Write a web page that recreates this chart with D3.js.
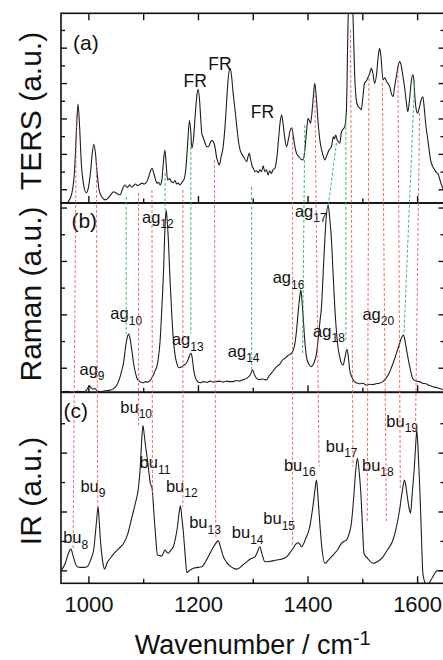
<!DOCTYPE html>
<html>
<head>
<meta charset="utf-8">
<script src="https://cdn.jsdelivr.net/npm/d3@7"></script>
<style>
  body { margin: 0; background: #fff; }
  text { font-family: "Liberation Sans", Arial, sans-serif; fill: #111; }
</style>
</head>
<body>
<div id="chart"></div>
<script>
// spectra: [wavenumber, intensity (a.u.)]
var ters = [[955,-0.9],[963,-0.72],[970,-0.2],[975,1.2],[978,3.2],[981,4.82],[984,3.5],[987,1.5],[991,0.3],[996,-0.19],[1000,0.1],[1004,1.0],[1007,2.0],[1010,2.54],[1013,2.0],[1016,0.9],[1020,-0.1],[1025,-0.45],[1031,-0.6],[1036,-0.5],[1041,-0.3],[1046,-0.14],[1050,-0.2],[1054,-0.28],[1058,-0.32],[1062,0.0],[1067,0.24],[1071,0.1],[1075,0.25],[1079,0.12],[1082,0.19],[1086,0.3],[1090,0.2],[1094,0.28],[1098,0.35],[1102,0.3],[1107,0.45],[1110,0.7],[1113,1.0],[1116,1.19],[1119,0.95],[1122,0.6],[1125,0.34],[1128,0.4],[1131,0.24],[1134,0.5],[1136,1.2],[1139.7,2.22],[1142,1.4],[1144.5,0.53],[1148,0.6],[1151,0.45],[1155,0.37],[1158,0.5],[1161,0.3],[1164,0.35],[1167,0.24],[1171,0.4],[1175,0.6],[1178,1.2],[1181,2.5],[1184.5,3.88],[1187,3.2],[1189,2.32],[1192,2.9],[1195,4.2],[1198,5.3],[1200.3,5.65],[1203,5.0],[1205,4.0],[1207,3.16],[1210,2.9],[1213,2.6],[1216,2.41],[1219,2.4],[1222,2.6],[1225,2.75],[1228,2.69],[1231,2.4],[1234,1.8],[1237,1.5],[1239,1.37],[1242,1.8],[1246,2.41],[1249,3.4],[1252,4.8],[1255,6.2],[1258.6,6.84],[1261,6.5],[1264,5.5],[1267.7,4.48],[1271,3.5],[1274,2.7],[1276.8,2.22],[1280,2.0],[1284,1.8],[1289,1.56],[1291,1.8],[1293.7,2.03],[1296,1.7],[1299,1.3],[1301,1.19],[1304,1.0],[1307,1.05],[1310,0.94],[1313,1.1],[1316,1.0],[1319,1.32],[1322,1.0],[1325,1.1],[1328,0.81],[1331,1.05],[1334,0.9],[1337,1.1],[1340.5,1.19],[1344,1.8],[1347,2.8],[1350,3.8],[1352.7,4.2],[1355,3.8],[1358,3.0],[1361.8,2.41],[1365,2.8],[1368,3.3],[1371,3.48],[1374,3.0],[1377,2.4],[1380,2.03],[1384,1.85],[1388,1.7],[1392,1.66],[1395,2.2],[1398,3.2],[1401,4.01],[1403,3.9],[1405.5,3.73],[1408,4.3],[1411,5.4],[1413.3,5.99],[1416,5.2],[1419,3.9],[1422.4,2.79],[1426,2.2],[1429,1.85],[1431.5,1.66],[1435,1.9],[1439,2.2],[1443.7,2.41],[1447,2.97],[1449,2.85],[1451.5,3.07],[1454,2.8],[1456,2.7],[1458.8,2.6],[1462,3.25],[1465,3.4],[1468,3.54],[1471,4.5],[1474,9.5],[1477,12],[1480,12],[1483,9.8],[1486,6.5],[1489,5.04],[1492,4.7],[1495,4.6],[1498,4.48],[1501,5.2],[1504,5.99],[1507,6.1],[1510,6.3],[1513,6.5],[1516.5,6.84],[1519,6.6],[1522.5,5.99],[1526,6.5],[1529,7.5],[1531.6,7.97],[1534,7.5],[1537.7,6.18],[1541,6.3],[1544,6.1],[1546.7,5.99],[1550,5.8],[1553,5.4],[1555.9,5.23],[1559,5.8],[1562,6.36],[1565,6.9],[1568,7.21],[1571,7.0],[1574,6.4],[1577,5.8],[1580,5.0],[1583,4.38],[1586,5.0],[1589,6.0],[1592,6.46],[1594,6.2],[1596,5.2],[1598.5,4.48],[1601,4.3],[1604,4.6],[1607,5.0],[1610.5,5.23],[1613,4.6],[1616,3.6],[1619.6,2.79],[1622,2.2],[1625,1.6],[1628.7,1.28],[1632,1.1],[1635,0.95],[1638,0.9],[1641,0.6],[1644,0.3],[1648,0.0]];

var raman = [[951,-0.9],[960,-0.88],[970,-0.92],[980,-0.88],[990,-0.9],[996,-0.85],[1000,-0.72],[1002.4,-0.69],[1005,-0.75],[1008,-0.8],[1012,-0.78],[1016,-0.87],[1022,-0.9],[1030,-0.86],[1040,-0.84],[1046,-0.78],[1052,-0.65],[1057,-0.4],[1061,-0.1],[1064,0.16],[1068,0.8],[1071,1.15],[1073.5,1.26],[1076,1.1],[1079,0.7],[1082.5,0.16],[1086,-0.2],[1088.7,-0.4],[1093,-0.5],[1097,-0.55],[1100.7,-0.56],[1104,-0.52],[1108,-0.54],[1113,-0.46],[1118,-0.3],[1122,-0.1],[1125,0.04],[1128,0.4],[1131,1.04],[1134,2.2],[1137,3.54],[1139,4.8],[1141,5.7],[1142,5.9],[1143.5,5.6],[1146,4.78],[1149,3.3],[1152.4,1.91],[1155,1.1],[1158,0.5],[1161.5,0.16],[1165,0.0],[1170.6,0.04],[1174,0.1],[1178,0.15],[1182,0.3],[1185,0.48],[1187.6,0.54],[1190,0.3],[1192,-0.05],[1194.9,-0.34],[1198,-0.48],[1204,-0.56],[1210,-0.52],[1216,-0.55],[1222,-0.5],[1228,-0.54],[1234,-0.52],[1240,-0.5],[1246,-0.54],[1252,-0.5],[1258,-0.52],[1264.6,-0.52],[1270,-0.48],[1276,-0.5],[1282,-0.45],[1289,-0.4],[1295,-0.28],[1300,-0.09],[1303,-0.25],[1307,-0.4],[1312,-0.44],[1318,-0.42],[1325,-0.46],[1330,-0.3],[1336,-0.15],[1343.6,0.04],[1350,0.15],[1354,0.28],[1358.7,0.35],[1364,0.45],[1368,0.5],[1372.7,0.6],[1376,0.8],[1380,1.41],[1383,2.1],[1386,2.7],[1387.8,2.91],[1389.5,2.6],[1392,1.91],[1395,1.0],[1398,0.41],[1402,0.15],[1407,0.04],[1411,0.15],[1416.4,0.54],[1420,1.2],[1423,1.8],[1425.5,2.28],[1428,3.3],[1431.5,4.78],[1434,5.6],[1437.5,6.09],[1440.5,5.6],[1443.7,4.78],[1446.5,3.6],[1449.7,2.28],[1453,1.3],[1456,0.7],[1458.8,0.41],[1461,0.2],[1464.8,0.1],[1468,0.35],[1472,0.69],[1474.5,0.4],[1477,-0.09],[1481,-0.35],[1485,-0.5],[1489,-0.56],[1495,-0.6],[1501,-0.58],[1507,-0.65],[1513,-0.62],[1519,-0.63],[1525,-0.6],[1531,-0.58],[1537.7,-0.52],[1543,-0.4],[1549,-0.2],[1553,0.0],[1556,0.16],[1560,0.4],[1564,0.65],[1568,0.91],[1571,1.1],[1575,1.22],[1578,1.0],[1580,0.75],[1583,0.41],[1587,0.0],[1592,-0.4],[1598,-0.5],[1604.5,-0.52],[1610,-0.58],[1616,-0.6],[1622,-0.66],[1628.7,-0.71],[1635,-0.74],[1641,-0.78],[1648,-0.82]];

var ir = [[951,0.01],[958,0.25],[963,0.55],[968,0.72],[972,0.5],[976,0.25],[979.5,0.12],[986,0.1],[992,0.1],[997.7,0.12],[1003,0.3],[1007,0.5],[1009.7,0.69],[1012,1.1],[1015,1.7],[1017.7,2.16],[1020,1.6],[1022.5,0.9],[1025,0.46],[1027.5,0.15],[1029.7,0.04],[1034,0.25],[1040,0.41],[1048,0.6],[1056,0.75],[1064.3,0.92],[1072,1.25],[1079.6,1.82],[1086,2.3],[1091.6,2.84],[1095,3.6],[1097.5,4.5],[1099.6,4.92],[1102,4.6],[1104.5,4.2],[1107,3.86],[1110,3.4],[1113,2.96],[1116,2.82],[1118,2.4],[1120,1.82],[1123,1.1],[1126,0.52],[1130,0.5],[1134,0.49],[1137,0.6],[1140,0.69],[1143,0.62],[1146,0.58],[1150,0.68],[1155,0.8],[1159,1.1],[1162.6,1.48],[1165.5,1.95],[1168,2.19],[1170.5,1.8],[1173.5,1.26],[1176.5,0.55],[1179.7,-0.07],[1185,0.0],[1191.7,0.07],[1200,0.1],[1207,0.12],[1214,0.3],[1222,0.58],[1230,0.85],[1237,1.0],[1241,0.8],[1246.4,0.46],[1252,0.28],[1258.6,0.15],[1264,0.08],[1270.8,0.04],[1280,0.15],[1289,0.29],[1297,0.4],[1304,0.46],[1308,0.6],[1313,0.8],[1317,0.55],[1322,0.29],[1330,0.3],[1343.6,0.35],[1352,0.38],[1361.8,0.46],[1368,0.6],[1373.8,0.75],[1378,0.88],[1383,0.94],[1386,0.88],[1389,0.8],[1396,1.05],[1404,1.48],[1410,2.2],[1414,2.8],[1416.4,3.07],[1419,2.5],[1422.4,1.6],[1426,0.8],[1431.5,0.24],[1438,0.35],[1446.6,0.52],[1455,0.7],[1462,0.92],[1468,1.0],[1471,1.03],[1476,1.25],[1480,1.6],[1484,2.4],[1488,3.4],[1491,3.81],[1494,3.4],[1498,2.39],[1500.5,1.4],[1503,0.58],[1510,0.4],[1519.5,0.24],[1528,0.3],[1537.7,0.46],[1546,0.7],[1556,1.03],[1562,1.45],[1568,2.05],[1573,2.7],[1577,3.07],[1580,2.8],[1583,2.39],[1586,2.05],[1588,1.94],[1591,2.6],[1595,3.52],[1597.5,4.3],[1599.6,4.77],[1602,4.0],[1604.5,2.96],[1607.5,1.4],[1610.5,-0.1],[1614,-0.4],[1618,-0.5],[1623,-0.4],[1628.7,-0.22],[1634,-0.05],[1637.8,-0.01],[1648,-0.01]];

// dashed guides: [w top, value in (a), w bottom, value in (c) or (b)]
var redLines = [[978,4.19,972,0.69],[1014.6,1.66,1017,2.16],[1091.6,-0.2,1091.6,4.94],[1116,-0.04,1117,2.39],[1172.5,-0.04,1172.5,2.16],[1230,1.66,1232.5,1.14],[1372.7,3.25,1372.7,0.8],[1413.3,5.61,1421,3.52],[1478.3,9.0,1483,3.52],[1512,6.29,1509,1.65],[1536.6,6.0,1544,1.6],[1565,7.02,1569.3,2.79],[1604.5,4.31,1597,4.66]];
var greenLines = [[1069,-0.43,1069,1.26],[1140,0.92,1140,5.9],[1187,2.95,1187,1.29],[1298,0.13,1298,-0.09],[1395,3.63,1391,0.54],[1452.8,2.62,1438,6.09],[1470,3.8,1470,1.0],[1595.5,6.18,1576,1.22]];

// annotations: [text, subscript, wavenumber, value]
var labelsA = [["(a)","",972,7.87],["FR","",1173.6,5.8],["FR","",1219,6.74],["FR","",1296.3,4.05]];
var labelsB = [["(b)","",969,5.22],["ag","9",983.7,-0.27],["ag","10",1040.1,1.81],["ag","12",1097.8,5.43],["ag","13",1152.4,0.85],["ag","14",1254.4,0.41],["ag","16",1336.3,3.16],["ag","17",1376.9,5.66],["ag","18",1410.2,1.16],["ag","20",1500.2,1.79]];
var labelsC = [["(c)","",954.6,5.18],["bu","8",954,0.92],["bu","9",985.5,2.67],["bu","10",1058.3,5.36],["bu","11",1093.5,3.47],["bu","12",1141.5,2.67],["bu","13",1183.9,1.43],["bu","14",1261.7,1.09],["bu","15",1319.2,1.57],["bu","16",1356.9,3.39],["bu","17",1433.3,4.03],["bu","18",1499.4,3.39],["bu","19",1543.8,4.88]];

var xMajor = [1000, 1200, 1400, 1600];
var xMinor = [1100, 1300, 1500];

var width = 443, height = 660;
var svg = d3.select("#chart").append("svg")
    .attr("width", width)
    .attr("height", height);

var x = d3.scaleLinear().domain([950, 1650]).range([61, 444.5]);

var panels = [
    { id: "a", top: 13.3, bottom: 203, dom: [-0.774, 9.94], nt: 9, data: ters, labels: labelsA, title: "TERS (a.u.)", ty: 111 },
    { id: "b", top: 203, bottom: 392.3, dom: [-0.92, 6.17], nt: 6, data: raman, labels: labelsB, title: "Raman (a.u.)", ty: 294 },
    { id: "c", top: 392.3, bottom: 583.3, dom: [-0.44, 6.05], nt: 5, data: ir, labels: labelsC, title: "IR (a.u.)", ty: 491 }
];
panels.forEach(function (p) {
    p.y = d3.scaleLinear().domain(p.dom).range([p.bottom, p.top]);
});

var defs = svg.append("defs");

panels.forEach(function (p, i) {
    defs.append("clipPath").attr("id", "clip-" + p.id)
        .append("rect")
        .attr("x", x.range()[0]).attr("y", p.top)
        .attr("width", x.range()[1] - x.range()[0])
        .attr("height", p.bottom - p.top);

    var g = svg.append("g");

    var line = d3.line()
        .x(function (d) { return x(d[0]); })
        .y(function (d) { return p.y(d[1]); })
        .curve(d3.curveMonotoneX);

    g.append("path")
        .datum(p.data)
        .attr("clip-path", "url(#clip-" + p.id + ")")
        .attr("d", line)
        .attr("fill", "none")
        .attr("stroke", "#1e1e1e")
        .attr("stroke-width", 1.1);

    // y ticks, inward on both sides
    var yt = d3.range(0, p.nt + 1);
    var maj = yt.filter(function (v) { return v % 2 === 0; });
    var mnr = yt.filter(function (v) { return v % 2 === 1; });
    [[maj, 6], [mnr, 4]].forEach(function (s) {
        g.append("g").attr("transform", "translate(" + x.range()[0] + ",0)")
            .call(d3.axisLeft(p.y).tickValues(s[0]).tickSize(-s[1]).tickFormat(""));
        g.append("g").attr("transform", "translate(" + x.range()[1] + ",0)")
            .call(d3.axisRight(p.y).tickValues(s[0]).tickSize(-s[1]).tickFormat(""));
    });

    // x ticks from the bottom edge, pointing up
    var last = i === panels.length - 1;
    g.append("g").attr("transform", "translate(0," + p.bottom + ")")
        .call(d3.axisBottom(x).tickValues(xMajor).tickSize(-7).tickFormat(last ? d3.format("d") : ""))
        .call(function (a) {
            a.selectAll("text").attr("y", 28.5).attr("dy", null)
                .style("font-size", "22px")
                .style("font-family", "Liberation Sans, Arial, sans-serif");
        });
    g.append("g").attr("transform", "translate(0," + p.bottom + ")")
        .call(d3.axisBottom(x).tickValues(xMinor).tickSize(-4.5).tickFormat(""));

    if (i === 0) {
        g.append("g").attr("transform", "translate(0," + p.top + ")")
            .call(d3.axisTop(x).tickValues(xMajor.concat(xMinor)).tickSize(-7).tickFormat(""));
    }

    g.selectAll(".domain").remove();
    g.selectAll(".tick line").attr("stroke", "#111").attr("stroke-width", 1.4);

    g.append("rect")
        .attr("x", x.range()[0]).attr("y", p.top)
        .attr("width", x.range()[1] - x.range()[0])
        .attr("height", p.bottom - p.top)
        .attr("fill", "none")
        .attr("stroke", "#111")
        .attr("stroke-width", 1.6);

    g.append("text")
        .attr("transform", "translate(41," + p.ty + ") rotate(-90)")
        .attr("text-anchor", "middle")
        .style("font-size", "30px")
        .text(p.title);

    p.labels.forEach(function (l) {
        var big = l[0].charAt(0) === "(";
        var t = g.append("text")
            .attr("x", x(l[2]))
            .attr("y", p.y(l[3]))
            .style("font-size", big ? "21px" : (l[0] === "FR" ? "17.5px" : "16.5px"))
            .text(l[0]);
        if (l[1]) {
            t.append("tspan").attr("dy", 5.5).style("font-size", "12px").text(l[1]);
        }
    });
});

var pa = panels[0], pb = panels[1], pc = panels[2];

svg.append("g").selectAll("line")
    .data(redLines)
    .enter()
    .append("line")
    .attr("x1", function (d) { return x(d[0]); })
    .attr("y1", function (d) { return pa.y(d[1]); })
    .attr("x2", function (d) { return x(d[2]); })
    .attr("y2", function (d) { return pc.y(d[3]); })
    .attr("stroke", "#f25050")
    .attr("stroke-opacity", 0.85)
    .attr("stroke-width", 1)
    .attr("stroke-dasharray", "3,2");

svg.append("g").selectAll("line")
    .data(greenLines)
    .enter()
    .append("line")
    .attr("x1", function (d) { return x(d[0]); })
    .attr("y1", function (d) { return pa.y(d[1]); })
    .attr("x2", function (d) { return x(d[2]); })
    .attr("y2", function (d) { return pb.y(d[3]); })
    .attr("stroke", "#2fb24a")
    .attr("stroke-opacity", 0.9)
    .attr("stroke-width", 1)
    .attr("stroke-dasharray", "3,2");

var xt = svg.append("text")
    .attr("x", (x.range()[0] + x.range()[1]) / 2)
    .attr("y", 654)
    .attr("text-anchor", "middle")
    .style("font-size", "27px")
    .text("Wavenumber / cm");
xt.append("tspan").attr("dy", -9).style("font-size", "20px").text("-1");
</script>
</body>
</html>
